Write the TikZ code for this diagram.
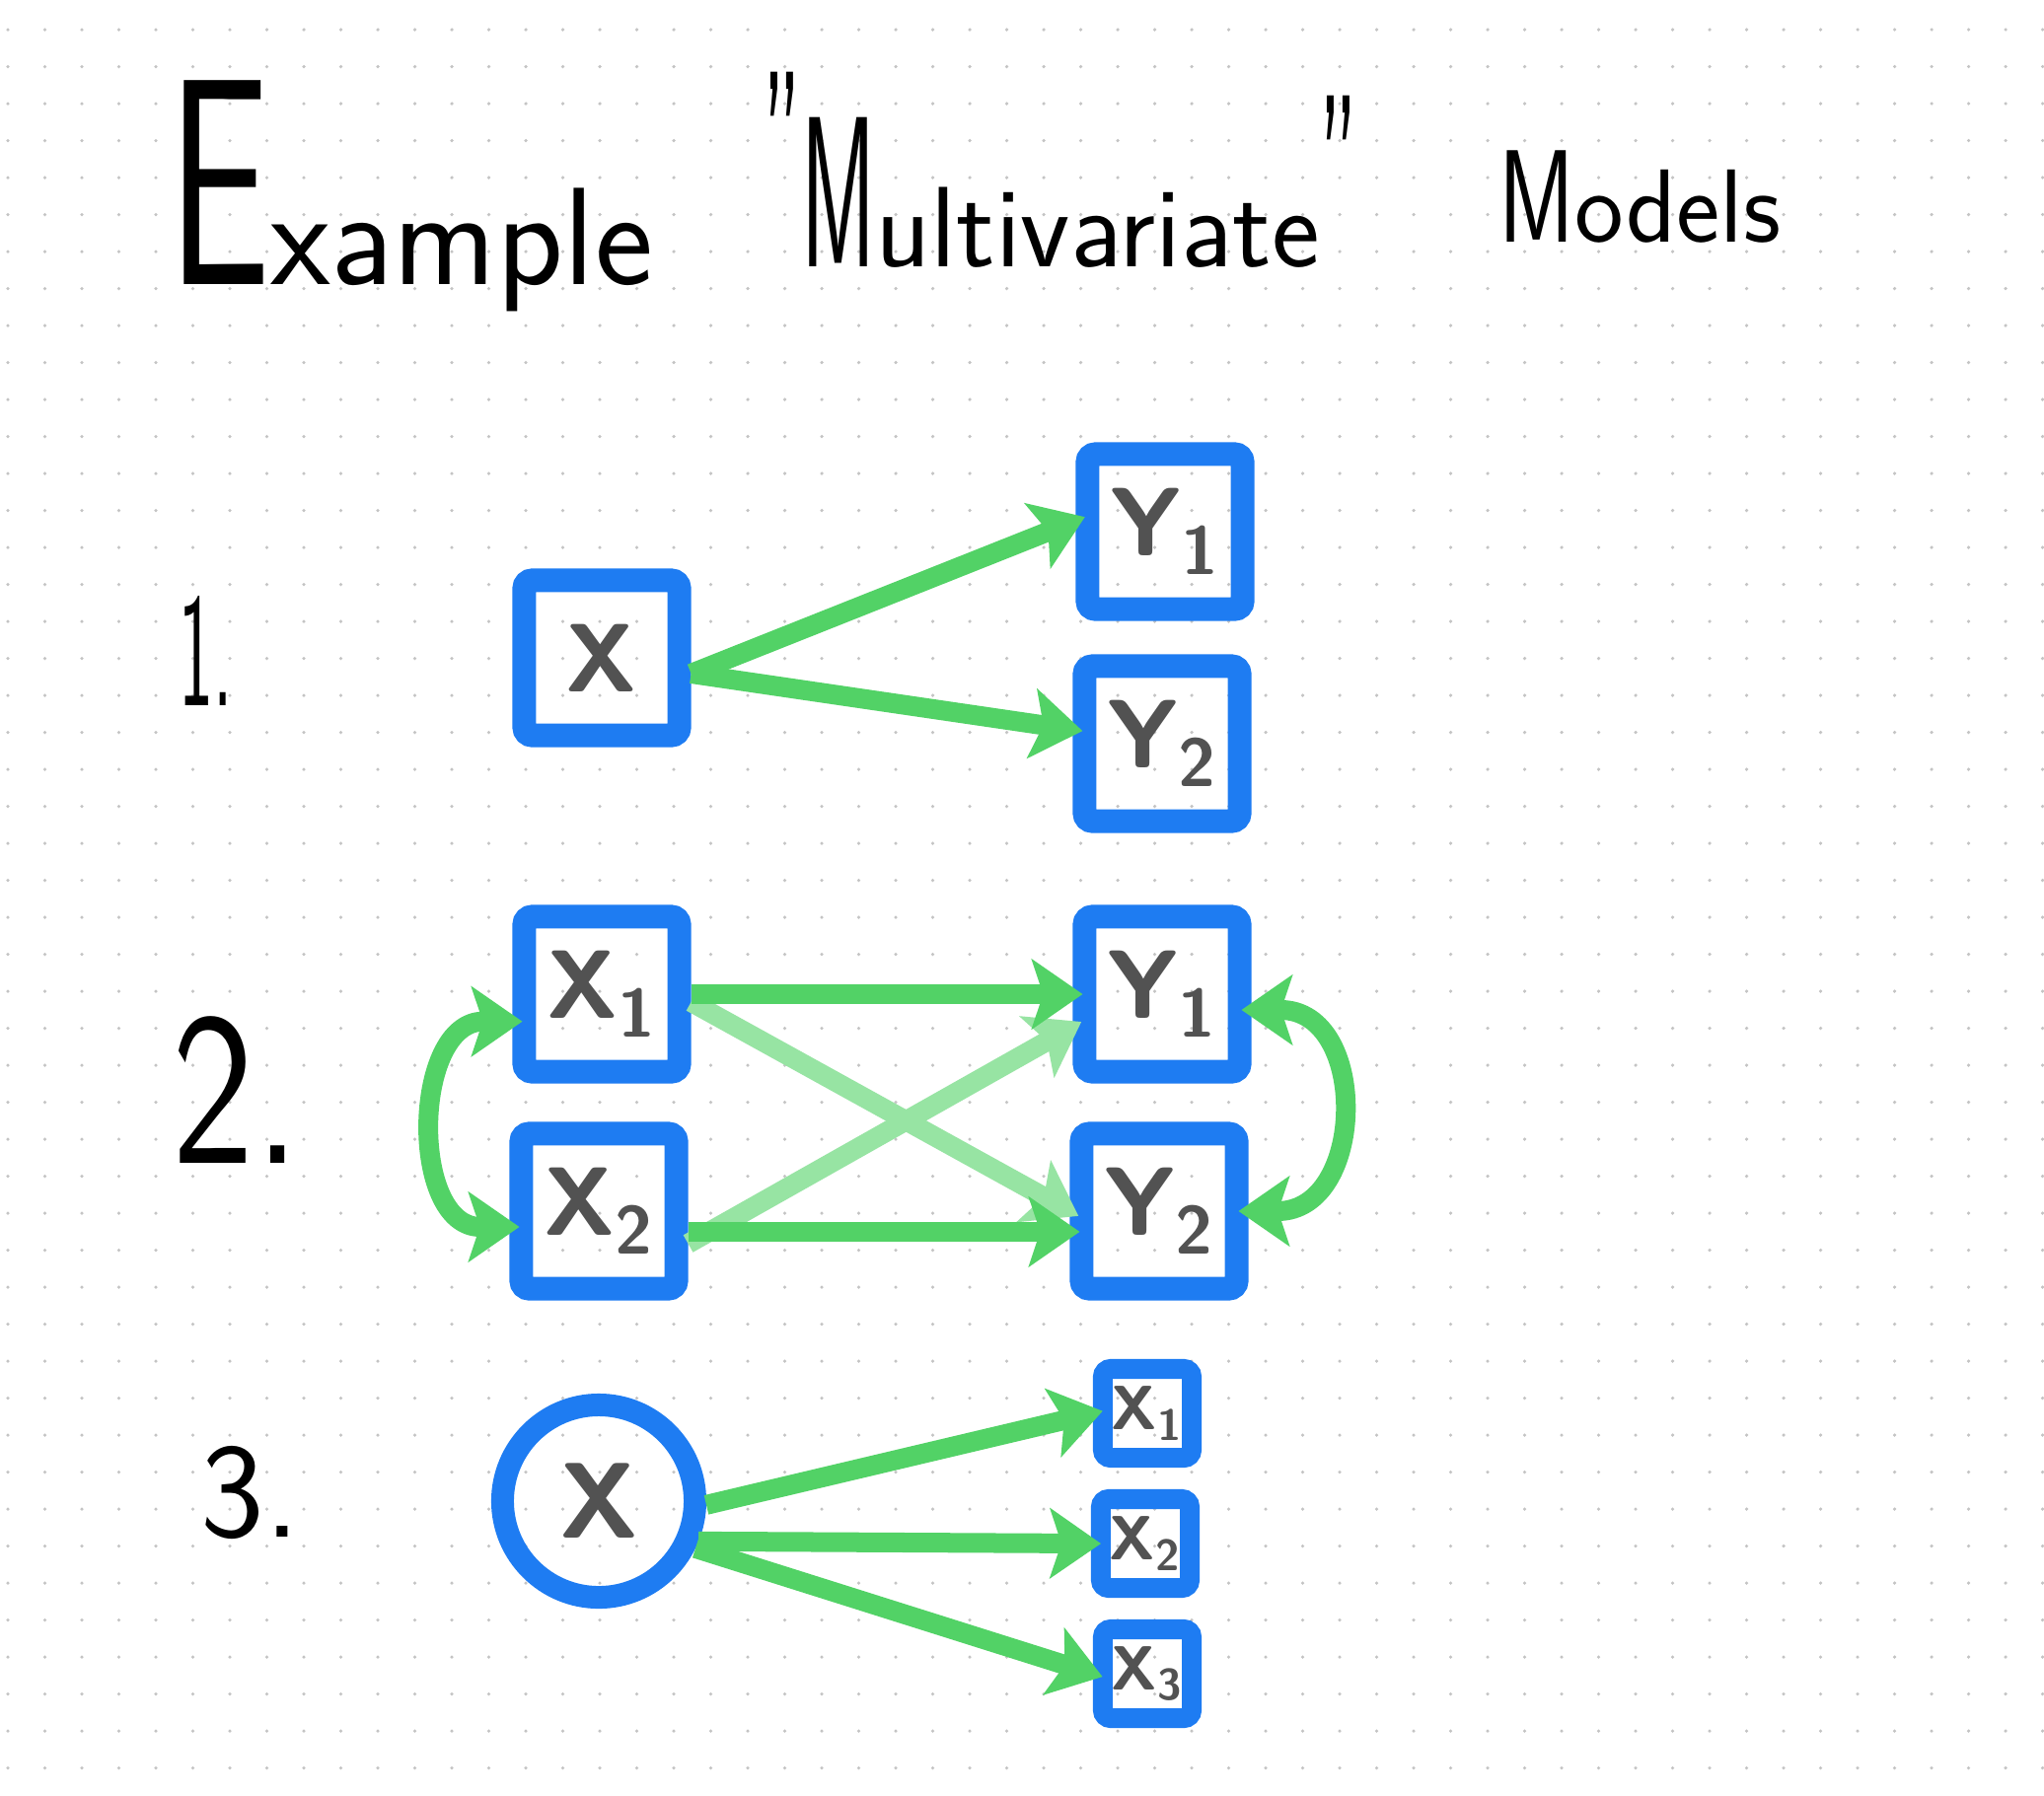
\documentclass[tikz,border=0pt]{standalone}
\usepackage{fontspec}
\usepackage{tikz}
\usetikzlibrary{arrows.meta}

\definecolor{boxblue}{RGB}{30,124,242}
\definecolor{arrowgreen}{RGB}{82,210,102}
\definecolor{dotgray}{RGB}{196,196,196}
\definecolor{markgray}{RGB}{82,82,82}
\tikzset{>={Stealth[length=0.52cm, width=0.72cm, inset=0.12cm, line width=0.02cm]}}

\begin{document}
\begin{tikzpicture}[x=0.01cm, y=-0.01cm,
	obsbox/.style={draw=boxblue, line width=0.24cm, rounded corners=0.08cm, minimum size=1.57cm, inner sep=0pt,
		text=markgray, font=\sffamily\bfseries\fontsize{28}{28}\selectfont},
	smallbox/.style={obsbox, line width=0.2cm, minimum size=0.9cm, font=\sffamily\bfseries\fontsize{18}{18}\selectfont},
	latent/.style={obsbox, circle, line width=0.23cm, minimum size=1.95cm, font=\sffamily\bfseries\fontsize{31}{31}\selectfont},
	flow/.style={->, draw=arrowgreen, line width=0.2cm, shorten >=-0.1cm},
	crossflow/.style={flow, draw=arrowgreen!60},
	handtitle/.style={anchor=base west, inner sep=0pt, font=\sffamily},
	itemno/.style={handtitle}]

		\fill[white] (0,0) rectangle (2072,1820);
		\useasboundingbox (0,0) rectangle (2072,1820);
		% dotted paper
		\foreach \i in {0,...,55}
			\foreach \j in {0,...,47}
				\fill[dotgray] (8+37.5*\i, 30+37.5*\j) circle (0.5pt);

		% title
		\node[handtitle] (tEx) at (170,288) {\scalebox{0.62}[1]{\fontsize{85}{85}\selectfont E}\fontsize{40}{40}\selectfont xample};
		\node[handtitle] (tMv) at (773,270) {\fontsize{62}{62}\selectfont\raisebox{13pt}{\scalebox{0.4}[1]{"}}\scalebox{0.42}[1]{M}\fontsize{33}{33}\selectfont ultivariate\fontsize{62}{62}\selectfont\raisebox{6pt}{\scalebox{0.4}[1]{"}}};
		\node[handtitle] (tMo) at (1519,245) {\scalebox{0.7}[1]{\fontsize{38}{38}\selectfont M}\fontsize{30}{30}\selectfont odels};

		\node[itemno] (n1) at (181,715) {\fontsize{47}{47}\selectfont\scalebox{0.45}[1]{1.}};
		\node[itemno] (n2) at (174,1179) {\fontsize{63}{63}\selectfont\scalebox{0.8}[1]{2.}};
		\node[itemno] (n3) at (203,1558) {\fontsize{39}{39}\selectfont 3.};

		% 1.
		\node[obsbox] (X) at (610,667) {X};
		\node[obsbox] (Y1) at (1181,539) {Y\textsubscript{1}};
		\node[obsbox] (Y2) at (1178,754) {Y\textsubscript{2}};
		\draw[flow] (X.-10) -- (Y1.173);
		\draw[flow] (X.-10) -- (Y2.171);

		% 2.
		\node[obsbox] (X1) at (610,1008) {X\textsubscript{1}};
		\node[obsbox] (X2) at (607,1228) {X\textsubscript{2}};
		\node[obsbox] (Y1b) at (1178,1008) {Y\textsubscript{1}};
		\node[obsbox] (Y2b) at (1175,1228) {Y\textsubscript{2}};
		\draw[crossflow] (X1.-5) -- (Y2b.west);
		\draw[crossflow] (X2.-20) -- (Y1b.200);
		\draw[flow] (X1.east) -- (Y1b.west);
		\draw[flow] (X2.-13) -- (Y2b.193);
		\draw[flow, <->, shorten <=-0.1cm] (X1.197) to[out=180, in=180, looseness=1.25] (X2.190);
		\draw[flow, <->, shorten <=-0.1cm] (Y1b.-10) to[out=0, in=0, looseness=1.5] (Y2b.east);

		% 3.
		\node[latent] (Xc) at (607,1522) {X};
		\node[smallbox] (x1) at (1163,1433) {X\textsubscript{1}};
		\node[smallbox] (x2) at (1161,1565) {X\textsubscript{2}};
		\node[smallbox] (x3) at (1163,1697) {X\textsubscript{3}};
		\draw[flow] (Xc.-2) -- (x1.west);
		\draw[flow] (Xc.-22) -- (x2.west);
		\draw[flow] (Xc.-26) -- (x3.west);

\end{tikzpicture}
\end{document}
